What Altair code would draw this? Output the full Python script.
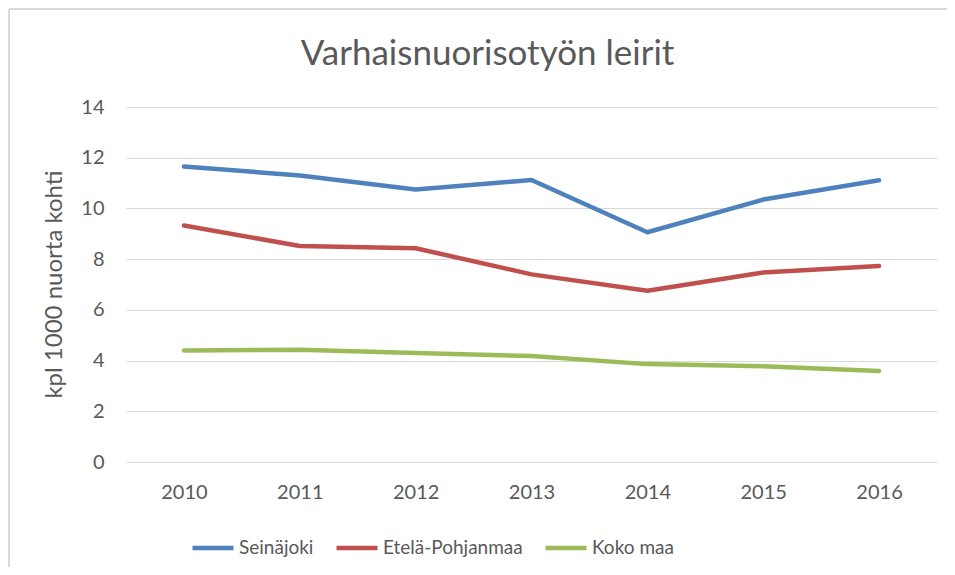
import altair as alt
import pandas as pd

years = ["2010", "2011", "2012", "2013", "2014", "2015", "2016"]
series_names = ["Seinäjoki", "Etelä-Pohjanmaa", "Koko maa"]
seinajoki = [11.65, 11.30, 10.75, 11.12, 9.06, 10.35, 11.11]
etela_pohjanmaa = [9.33, 8.52, 8.43, 7.40, 6.75, 7.47, 7.73]
koko_maa = [4.40, 4.43, 4.30, 4.18, 3.86, 3.78, 3.59]
colors = ["#4F81BD", "#C0504D", "#9BBB59"]
y_ticks = [0, 2, 4, 6, 8, 10, 12, 14]

rows = []
for name, vals in zip(series_names, [seinajoki, etela_pohjanmaa, koko_maa]):
    for yr, v in zip(years, vals):
        rows.append({"Vuosi": yr, "Sarja": name, "Arvo": v})
df = pd.DataFrame(rows)

FONT = "Lato"
GREY = "#595959"

lines = alt.Chart(df).mark_line(strokeWidth=4.5, strokeCap="round", strokeJoin="round").encode(
    x=alt.X("Vuosi:O", sort=years, title=None,
            axis=alt.Axis(labelAngle=0, ticks=False, tickSize=0, domain=False, grid=False,
                          labelFontSize=20, labelColor=GREY, labelFont=FONT, labelPadding=20)),
    y=alt.Y("Arvo:Q", scale=alt.Scale(domain=[0, 14], nice=False),
            axis=alt.Axis(values=y_ticks, title="kpl 1000 nuorta kohti", ticks=False, tickSize=0,
                          domain=False, gridColor="#D9D9D9", gridWidth=1.2,
                          labelFontSize=20, labelColor=GREY, labelFont=FONT, labelPadding=22,
                          titleFontSize=24, titleFont=FONT, titleColor=GREY, titleFontWeight="normal",
                          titleAngle=270, titleX=-72, titleY=177, titleAlign="center",
                          titleBaseline="middle")),
    color=alt.Color("Sarja:N", sort=series_names,
                    scale=alt.Scale(domain=series_names, range=colors),
                    legend=alt.Legend(title=None, orient="none", legendX=64, legendY=418,
                                      direction="horizontal", columns=3, symbolType="stroke",
                                      symbolSize=1681, symbolStrokeWidth=4.5, labelFontSize=19,
                                      labelFont=FONT, labelColor=GREY, labelOffset=3,
                                      columnPadding=13)),
    order=alt.Order("Vuosi:O"),
)

border_top = alt.Chart(df).mark_rule(color="#D9D9D9", strokeWidth=2).encode(
    x=alt.value(-117), x2=alt.value(830), y=alt.value(-98))
border_left = alt.Chart(df).mark_rule(color="#D9D9D9", strokeWidth=2).encode(
    x=alt.value(-117), y=alt.value(-98), y2=alt.value(470))

chart = alt.layer(border_top, border_left, lines).properties(
    width=811, height=355,
    autosize=alt.AutoSizeParams(type="none"),
    padding={"left": 118, "top": 99, "right": 10, "bottom": 105},
    title=alt.TitleParams("Varhaisnuorisotyön leirit", font=FONT, fontSize=35, fontWeight="normal",
                          color=GREY, anchor="middle", frame="group", dx=-44, offset=0, dy=92,
                          baseline="alphabetic"),
).configure_view(stroke=None)

chart.save("out.html", embed_options={"renderer": "svg", "actions": False})
